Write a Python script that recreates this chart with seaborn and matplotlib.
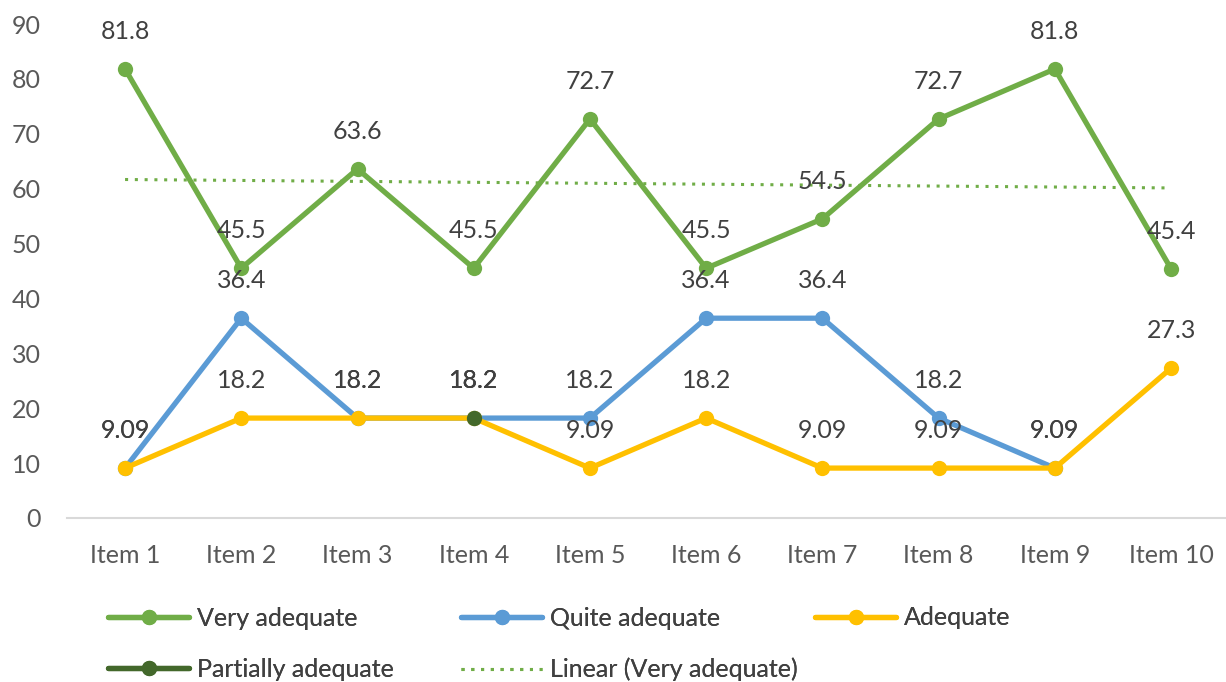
import numpy as np
import seaborn as sns
import matplotlib.pyplot as plt

# chart data
items = ['Item 1', 'Item 2', 'Item 3', 'Item 4', 'Item 5',
         'Item 6', 'Item 7', 'Item 8', 'Item 9', 'Item 10']
very_adequate = [81.8, 45.5, 63.6, 45.5, 72.7, 45.5, 54.5, 72.7, 81.8, 45.4]
quite_adequate = [9.09, 36.4, 18.2, 18.2, 18.2, 36.4, 36.4, 18.2, 9.09, np.nan]
adequate = [9.09, 18.2, 18.2, 18.2, 9.09, 18.2, 9.09, 9.09, 9.09, 27.3]
partially_adequate = [np.nan, np.nan, np.nan, 18.2, np.nan, np.nan, np.nan, np.nan, np.nan, np.nan]

sns.set_style('white')
plt.rcParams['font.family'] = ['Lato', 'DejaVu Sans']

x = np.arange(1, len(items) + 1)

fig = plt.figure(figsize=(12.26, 6.82), dpi=100)
ax = fig.add_axes([0.0546, 0.2405, 0.948, 0.7243])

series = [
    ('Very adequate', very_adequate, '#70AD47'),
    ('Quite adequate', quite_adequate, '#5B9BD5'),
    ('Adequate', adequate, '#FFC000'),
    ('Partially adequate', partially_adequate, '#43682B'),
]

handles = {}
for name, vals, col in series:
    sns.lineplot(x=x, y=vals, ax=ax, color=col, linewidth=3.8, marker='o',
                 markersize=11, markeredgewidth=0, label=name, zorder=3)
    handles[name] = ax.get_lines()[-1]

# data labels above each point
for name, vals, col in series:
    for xi, v in zip(x, vals):
        if np.isnan(v):
            continue
        ax.annotate(f'{v:g}', (xi, v), xytext=(0, 27), textcoords='offset points',
                    ha='center', va='center', fontsize=18, color='#404040', zorder=4)

# linear trendline for very adequate
slope, intercept = np.polyfit(x, very_adequate, 1)
trend = ax.plot(x, slope * x + intercept, color='#70AD47', linestyle=(0, (1, 2.2)),
                linewidth=2.2, label='Linear (Very adequate)', zorder=2)[0]

ax.set_xlim(0.5, 10.5)
ax.set_ylim(0, 90)
ax.set_yticks(range(0, 91, 10))
ax.set_xticks(x)
ax.set_xticklabels(items)
ax.tick_params(axis='both', labelsize=18, labelcolor='#595959', length=0)
ax.tick_params(axis='x', pad=19)
ax.tick_params(axis='y', pad=19)
for s in ['top', 'right', 'left']:
    ax.spines[s].set_visible(False)
ax.spines['bottom'].set_color('#D9D9D9')
ax.spines['bottom'].set_linewidth(1.5)
ax.grid(False)
ax.get_legend().remove()

# legend: three equal-width columns like the original
leg_kw = dict(frameon=False, fontsize=18, labelcolor='#404040', handlelength=3.25,
              handletextpad=0.3, labelspacing=1.12, borderpad=0, borderaxespad=0,
              loc='center left')
cols = [
    (0.0881, 0.0557, [handles['Very adequate'], handles['Partially adequate']],
     ['Very adequate', 'Partially adequate']),
    (0.376, 0.0557, [handles['Quite adequate'], trend],
     ['Quite adequate', 'Linear (Very adequate)']),
    (0.6648, 0.0939, [handles['Adequate']], ['Adequate']),
]
for xa, ya, hs, ls in cols:
    lg = fig.legend(hs, ls, bbox_to_anchor=(xa, ya), **leg_kw)
    fig.add_artist(lg)

plt.savefig('out.png', dpi=100)
